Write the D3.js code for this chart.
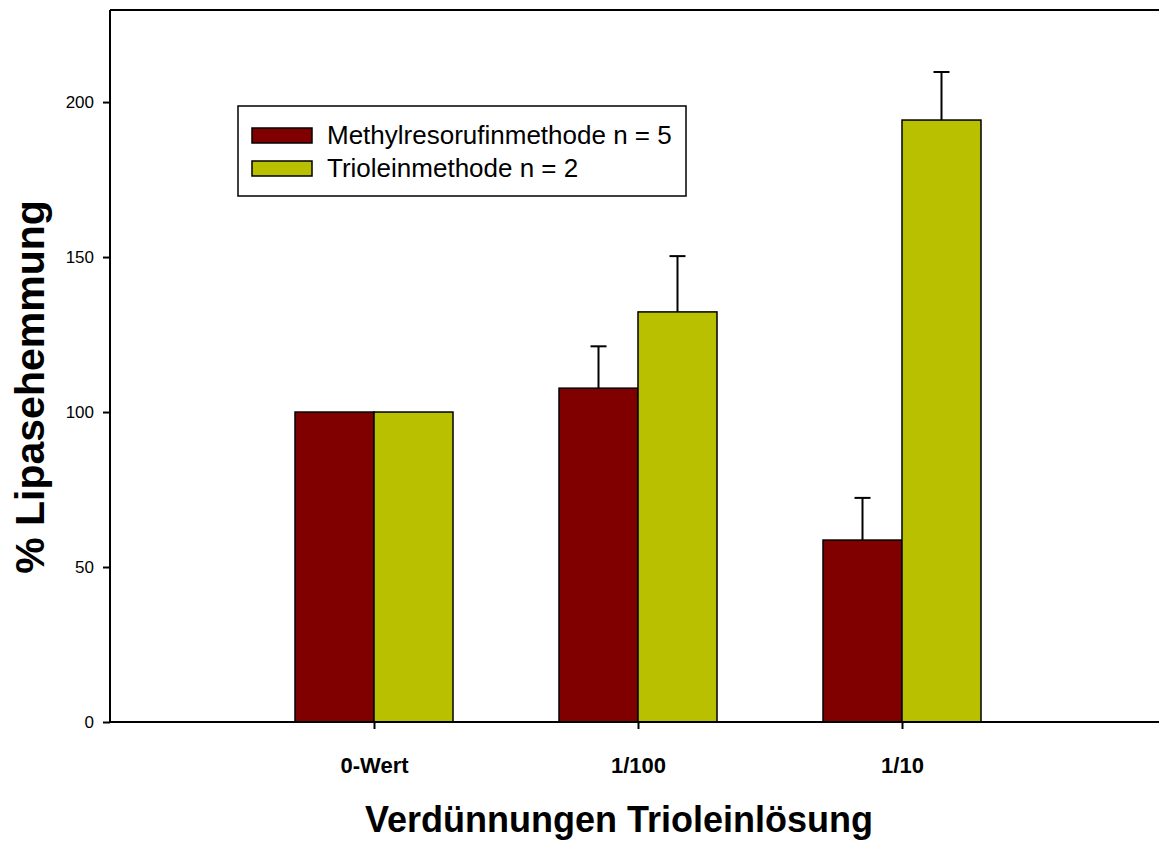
<!DOCTYPE html>
<html>
<head>
<meta charset="utf-8">
<script src="https://cdn.jsdelivr.net/npm/d3@7"></script>
<style>
  html, body { margin: 0; padding: 0; background: #fff; }
  svg { display: block; font-family: Arial, "Liberation Sans", sans-serif; }
</style>
</head>
<body>
<svg id="chart" width="1159" height="843"></svg>
<script>
const categories = ["0-Wert", "1/100", "1/10"];
const seriesNames = ["Methylresorufinmethode n = 5", "Trioleinmethode n = 2"];
const methylValues = [100, 107.7, 58.7];
const methylErrors = [0, 13.5, 13.6];
const trioleinValues = [100, 132.3, 194.2];
const trioleinErrors = [0, 18.0, 15.5];
const yTicks = [0, 50, 100, 150, 200];
const colors = ["#800000", "#b9c000"];

(function () {
const svg = d3.select("#chart");
const pLeft = 110, pRight = 1166, pTop = 10, pBottom = 722;
const FONT = "Arial, 'Liberation Sans', sans-serif";

const x = d3.scalePoint().domain(categories).range([pLeft, pRight]).padding(1);
const y = d3.scaleLinear().domain([0, 229.7]).range([pBottom, pTop]);
const barW = 79;

const series = [
  { name: seriesNames[0], values: methylValues, errors: methylErrors, color: colors[0], offset: -1 },
  { name: seriesNames[1], values: trioleinValues, errors: trioleinErrors, color: colors[1], offset: 0 }
];

svg.append("path")
  .attr("d", `M${pLeft},${pTop}H${pRight}V${pBottom}`)
  .attr("fill", "none").attr("stroke", "#000").attr("stroke-width", 2);

series.forEach(s => {
  const g = svg.append("g");
  categories.forEach((c, i) => {
    if (!s.errors[i]) return;
    const cx = x(c) + s.offset * barW + barW / 2;
    g.append("line").attr("x1", cx).attr("x2", cx)
      .attr("y1", y(s.values[i])).attr("y2", y(s.values[i] + s.errors[i]))
      .attr("stroke", "#000").attr("stroke-width", 2);
    g.append("line").attr("x1", cx - 8).attr("x2", cx + 8)
      .attr("y1", y(s.values[i] + s.errors[i])).attr("y2", y(s.values[i] + s.errors[i]))
      .attr("stroke", "#000").attr("stroke-width", 2);
  });
});

series.forEach(s => {
  svg.append("g").selectAll("rect").data(categories).join("rect")
    .attr("x", (c) => x(c) + s.offset * barW)
    .attr("y", (c, i) => y(s.values[i]))
    .attr("width", barW)
    .attr("height", (c, i) => y(0) - y(s.values[i]))
    .attr("fill", s.color)
    .attr("stroke", "#000").attr("stroke-width", 1.5);
});

const yAxis = svg.append("g").attr("transform", `translate(${pLeft},0)`)
  .call(d3.axisLeft(y).tickValues(yTicks).tickSize(7).tickPadding(9));
yAxis.attr("font-size", null).attr("font-family", null);
yAxis.select(".domain").attr("d", `M0,${pBottom}V${pTop}`).attr("stroke-width", 2);
yAxis.selectAll(".tick line").attr("stroke-width", 2);
yAxis.selectAll(".tick text").style("font-size", "17px").style("font-family", FONT).attr("fill", "#000");

const xAxis = svg.append("g").attr("transform", `translate(0,${pBottom})`)
  .call(d3.axisBottom(x).tickSize(7).tickPadding(28));
xAxis.attr("font-size", null).attr("font-family", null);
xAxis.select(".domain").attr("d", `M${pLeft},0H${pRight}`).attr("stroke-width", 2);
xAxis.selectAll(".tick line").attr("stroke-width", 2);
xAxis.selectAll(".tick text").style("font-size", "22px").style("font-weight", "bold")
  .style("font-family", FONT).attr("fill", "#000");

svg.append("text")
  .attr("x", 619).attr("y", 832)
  .attr("text-anchor", "middle")
  .style("font-size", "36px").style("font-weight", "bold")
  .text("Verdünnungen Trioleinlösung");

svg.append("text")
  .attr("transform", "translate(44,387) rotate(-90)")
  .attr("text-anchor", "middle")
  .style("font-size", "41px").style("font-weight", "bold")
  .text("% Lipasehemmung");

const lg = svg.append("g");
lg.append("rect").attr("x", 238).attr("y", 106).attr("width", 448).attr("height", 90)
  .attr("fill", "#fff").attr("stroke", "#000").attr("stroke-width", 1.5);
series.forEach((s, i) => {
  const yy = 128 + i * 33;
  lg.append("rect").attr("x", 252).attr("y", yy).attr("width", 60).attr("height", 15)
    .attr("fill", s.color).attr("stroke", "#000").attr("stroke-width", 1.5);
  lg.append("text").attr("x", 327).attr("y", 144 + i * 32.5)
    .style("font-size", "26px").attr("fill", "#000").text(s.name);
});
})();
</script>
</body>
</html>
